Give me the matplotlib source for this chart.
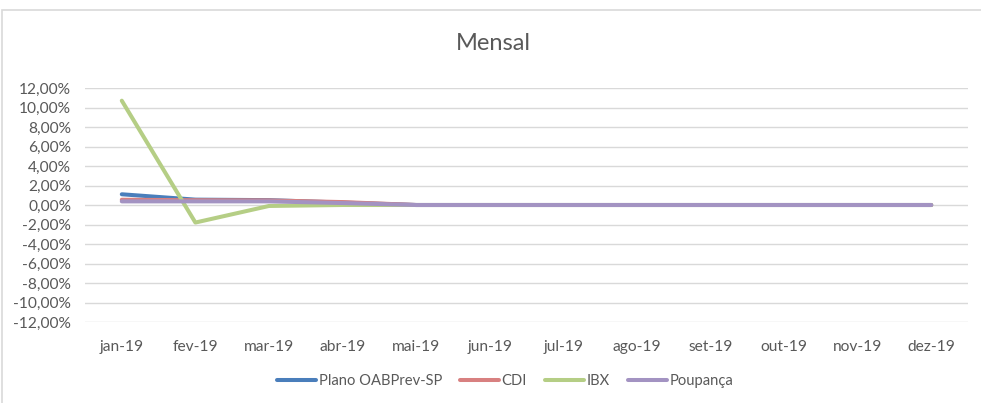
import matplotlib
matplotlib.use("Agg")
import matplotlib.pyplot as plt
from matplotlib.patches import Rectangle
from matplotlib.ticker import FuncFormatter, MultipleLocator

categories = ["jan-19", "fev-19", "mar-19", "abr-19", "mai-19", "jun-19",
              "jul-19", "ago-19", "set-19", "out-19", "nov-19", "dez-19"]
plano = [1.10, 0.55, 0.50, 0.25, 0, 0, 0, 0, 0, 0, 0, 0]
cdi = [0.54, 0.49, 0.47, 0.30, 0, 0, 0, 0, 0, 0, 0, 0]
ibx = [10.70, -1.80, -0.10, 0.00, 0, 0, 0, 0, 0, 0, 0, 0]
poupanca = [0.37, 0.37, 0.37, 0.20, 0, 0, 0, 0, 0, 0, 0, 0]
series_names = ["Plano OABPrev-SP", "CDI", "IBX", "Poupança"]
colors = ["#4A7EBB", "#D88080", "#B5CE85", "#A393C2"]

plt.rcParams['font.family'] = ['Lato', 'DejaVu Sans']

fig = plt.figure(figsize=(9.81, 4.03), dpi=100)
fig.patches.append(Rectangle((2/981, -0.01), 1.2, 1 - 10/403 + 0.01,
                             transform=fig.transFigure, fill=False,
                             edgecolor="#D9D9D9", linewidth=1.2))
ax = fig.add_axes([85/981, 1 - 322/403, (968 - 85)/981, (322 - 88)/403])

x = list(range(len(categories)))
for vals, name, c in zip([plano, cdi, ibx, poupanca], series_names, colors):
    ax.plot(x, vals, color=c, linewidth=2.9, label=name, solid_capstyle='round')

ax.set_xlim(-0.5, len(categories) - 0.5)
ax.set_ylim(-12, 12)
ax.yaxis.set_major_locator(MultipleLocator(2))
ax.yaxis.set_major_formatter(FuncFormatter(lambda v, p: f"{v:.2f}%".replace(".", ",")))
ax.set_xticks(x)
ax.set_xticklabels(categories)
ax.tick_params(axis='x', length=0, labelsize=11.2, colors="#595959", pad=13)
ax.tick_params(axis='y', length=0, labelsize=11.2, colors="#595959", pad=10)
ax.grid(axis='y', color="#D9D9D9", linewidth=1)
ax.set_axisbelow(True)
for s in ax.spines.values():
    s.set_visible(False)

fig.text(493/981, 1 - 43/403, "Mensal", ha='center', va='center', fontsize=17, color="#595959")

leg = fig.legend(loc='center', bbox_to_anchor=(505/981, 1 - 381/403), ncol=4,
                 frameon=False, fontsize=10.6, handlelength=2.7, handletextpad=0.15,
                 columnspacing=1.2)
for t in leg.get_texts():
    t.set_color("#595959")

fig.savefig("out.png", dpi=100)
